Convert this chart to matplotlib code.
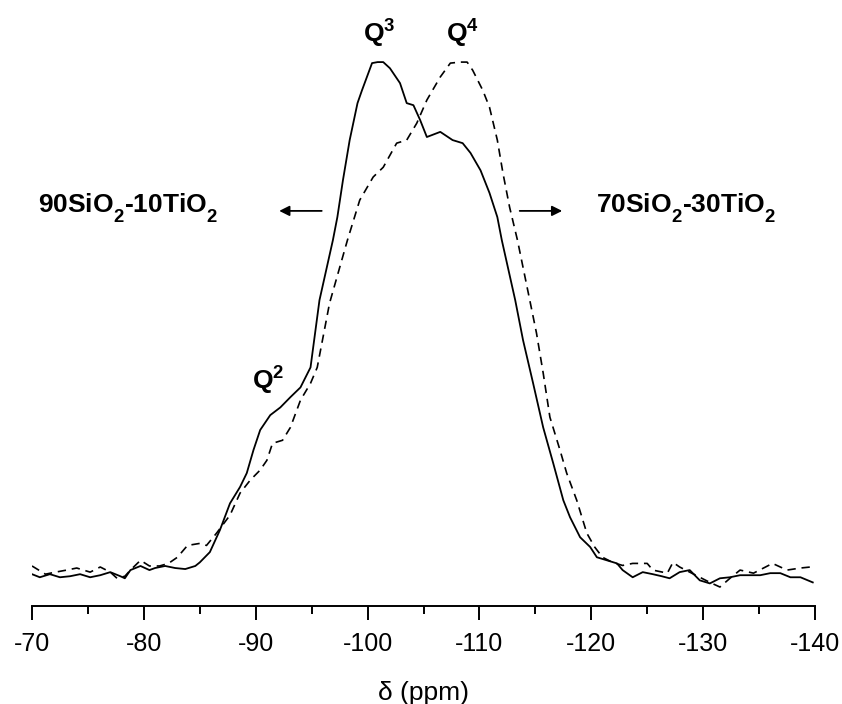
import matplotlib
matplotlib.use("Agg")
import matplotlib.pyplot as plt
from matplotlib.ticker import MultipleLocator

plt.rcParams['font.family'] = ['Liberation Sans', 'DejaVu Sans']
plt.rcParams['mathtext.fontset'] = 'custom'
plt.rcParams['mathtext.rm'] = 'Liberation Sans'
plt.rcParams['mathtext.bf'] = 'Liberation Sans:bold'
plt.rcParams['axes.unicode_minus'] = False

# lower subscripts a little, as in the reference typesetting
try:
    import matplotlib._mathtext as _mt
    _mt.FontConstantsBase.sub1 = 0.72
except Exception:
    pass

# 90SiO2-10TiO2 (solid)
ppm_a = [-70.0, -70.7, -71.6, -72.5, -73.4, -74.3, -75.2, -76.1, -77.0, -77.9, -78.3, -78.8,
         -79.7, -80.5, -81.0, -81.9, -82.8, -83.7, -84.6, -85.0, -85.9, -86.8, -87.7, -88.6,
         -89.2, -89.8, -90.4, -91.3, -92.2, -93.1, -94.0, -94.9, -95.7, -96.9, -97.3, -97.8,
         -98.4, -99.1, -99.5, -100.4, -100.9, -101.4, -102.0, -102.9, -103.5, -104.1, -104.7,
         -105.3, -106.5, -107.6, -108.5, -109.2, -110.1, -110.9, -111.6, -112.0, -113.2,
         -113.9, -114.8, -115.7, -116.6, -117.5, -118.1, -119.0, -119.9, -120.5, -121.4,
         -122.3, -122.8, -123.7, -124.6, -125.5, -126.3, -127.0, -127.9, -128.8, -129.7,
         -130.6, -131.5, -132.4, -133.3, -134.2, -135.1, -136.0, -136.9, -137.8, -138.7, -139.8]
int_a = [0.2, -0.4, 0.2, -0.4, -0.2, 0.2, -0.4, 0.0, 0.6, -0.2, -0.6, 1.0,
         1.8, 1.0, 1.4, 1.8, 1.4, 1.2, 1.8, 2.5, 4.5, 8.8, 14.0, 17.2,
         19.9, 24.4, 28.3, 31.2, 32.7, 34.7, 36.6, 40.5, 53.6, 65.3, 69.8, 77.0,
         84.8, 92.0, 94.5, 99.8, 100.0, 100.0, 98.8, 95.9, 92.0, 91.6, 88.7,
         85.4, 86.4, 84.8, 84.2, 82.3, 78.9, 74.5, 69.8, 65.3, 53.6,
         45.8, 37.4, 28.8, 21.8, 14.6, 11.3, 7.4, 5.5, 3.5, 2.9,
         2.3, 1.0, -0.4, 0.6, 0.2, -0.2, -0.6, 0.6, 1.0, -1.0,
         -1.6, -0.6, -0.4, 0.0, 0.0, 0.0, 0.4, 0.4, -0.4, -0.4, -1.4]

# 70SiO2-30TiO2 (dashed)
ppm_b = [-70.0, -71.2, -72.1, -73.1, -74.0, -75.2, -76.1, -77.0, -77.6, -78.3, -78.8, -79.7,
         -80.5, -81.4, -82.2, -83.0, -83.9, -85.0, -85.6, -86.5, -87.7, -88.6, -89.5, -90.4,
         -91.0, -91.5, -92.4, -93.1, -94.0, -94.9, -95.5, -96.6, -98.2, -99.3, -100.5, -101.4,
         -102.6, -103.5, -104.4, -105.3, -106.5, -107.4, -108.3, -108.9, -109.4, -110.3,
         -110.9, -111.6, -112.1, -112.7, -113.4, -114.5, -115.1, -115.7, -116.3, -117.2,
         -117.8, -118.7, -119.6, -120.3, -121.0, -121.9, -122.8, -123.7, -125.0, -125.5,
         -126.8, -127.3, -127.9, -128.8, -129.7, -130.6, -131.5, -132.4, -133.3, -134.5,
         -135.4, -136.2, -137.5, -138.7, -139.6]
int_b = [1.8, 0.2, 0.6, 1.0, 1.4, 0.6, 1.6, 0.6, -0.6, -0.2, 1.0, 2.9,
         1.8, 1.8, 2.3, 3.5, 5.8, 6.2, 5.8, 8.2, 11.7, 16.0, 18.5, 20.5,
         22.4, 25.7, 26.3, 28.8, 34.1, 37.4, 40.5, 53.0, 65.3, 73.1, 77.6, 79.5,
         84.2, 84.8, 88.1, 92.6, 97.1, 99.8, 100.0, 100.0, 98.4, 94.5,
         91.2, 84.8, 78.4, 71.7, 65.3, 53.6, 47.2, 39.4, 30.8, 24.4,
         19.9, 14.6, 8.2, 5.5, 3.5, 2.5, 1.9, 2.3, 2.3, 1.0,
         0.4, 2.5, 1.6, 0.6, -0.4, -1.4, -2.3, -0.6, 1.0, 0.4,
         1.4, 2.3, 1.0, 1.4, 1.6]

label_a = r'90SiO$_\mathbf{2}$-10TiO$_\mathbf{2}$'
label_b = r'70SiO$_\mathbf{2}$-30TiO$_\mathbf{2}$'

fig = plt.figure(figsize=(8.42, 7.04), dpi=100)
ax = fig.add_axes([32/842, 98/704, 783/842, 606/704])

ax.plot(ppm_a, int_a, color='black', lw=1.3, ls='-')
ax.plot(ppm_b, int_b, color='black', lw=1.2, ls=(0, (5, 3.5)))

ax.set_xlim(-70, -140)
ax.set_ylim(-6.0, 112.1)

for s in ['top', 'right', 'left']:
    ax.spines[s].set_visible(False)
ax.spines['bottom'].set_linewidth(1.4)
ax.set_yticks([])
ax.xaxis.set_major_locator(MultipleLocator(10))
ax.xaxis.set_minor_locator(MultipleLocator(5))
ax.tick_params(axis='x', which='major', direction='out', length=10, width=1.4,
               labelsize=18, pad=9)
ax.tick_params(axis='x', which='minor', direction='out', length=6, width=1.4)
ax.set_xlabel('δ (ppm)', fontsize=19, labelpad=18)

tkw = dict(fontsize=19, fontweight='bold', color='black')
ax.text(-78.6, 71.5, label_a, ha='center', va='center', **tkw)
ax.text(-128.5, 71.5, label_b, ha='center', va='center', **tkw)

ax.text(-99.6, 103.9, r'Q$^\mathbf{3}$', ha='left', va='baseline', **tkw)
ax.text(-107.0, 103.9, r'Q$^\mathbf{4}$', ha='left', va='baseline', **tkw)
ax.text(-89.7, 36.3, r'Q$^\mathbf{2}$', ha='left', va='baseline', **tkw)

akw = dict(arrowstyle='-|>', color='black', lw=1.3, mutation_scale=15,
           shrinkA=0, shrinkB=0)
ax.annotate('', xy=(-92.1, 71.0), xytext=(-95.9, 71.0), arrowprops=akw)
ax.annotate('', xy=(-117.4, 71.0), xytext=(-113.6, 71.0), arrowprops=akw)

fig.savefig('out.png', dpi=100)
